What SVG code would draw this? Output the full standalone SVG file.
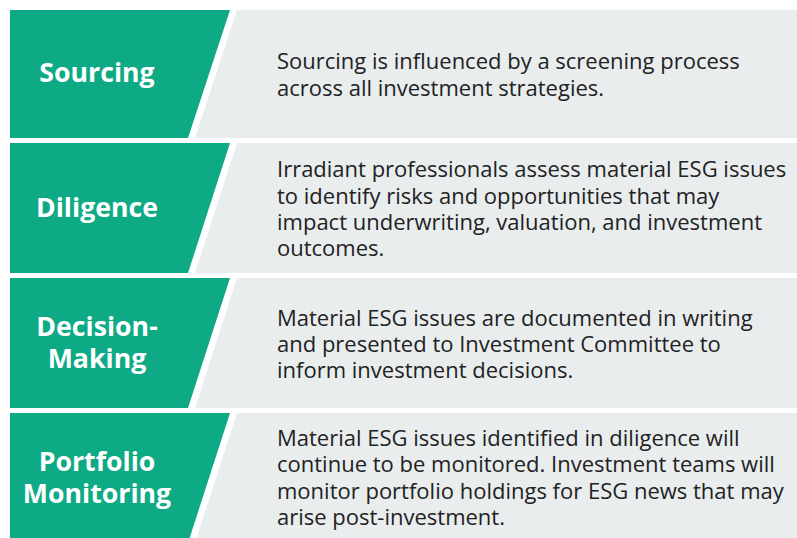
<svg xmlns="http://www.w3.org/2000/svg" width="797" height="538" viewBox="0 0 797 538">
  <style>
    .tab { fill: #0eaa85; }
    .panel { fill: #e9edee; }
    .label { font-family: "Open Sans", "Noto Sans", sans-serif; font-weight: 700; font-size: 26.7px; fill: #ffffff; text-anchor: middle; }
    .body { font-family: "Open Sans", "Noto Sans", sans-serif; font-size: 22px; fill: #222222; }
  </style>
  <rect width="797" height="538" fill="#ffffff"/>

  <g id="sourcing">
    <polygon class="tab" points="10,10 230,10 188,138 10,138"/>
    <polygon class="panel" points="237,10 797,10 797,138 195,138"/>
    <text class="label" x="97" y="82">Sourcing</text>
    <text class="body" x="277" y="69">Sourcing is influenced by a screening process</text>
    <text class="body" x="277" y="96">across all investment strategies.</text>
  </g>

  <g id="diligence">
    <polygon class="tab" points="10,143 230,143 188,273 10,273"/>
    <polygon class="panel" points="237,143 797,143 797,273 195,273"/>
    <text class="label" x="97" y="217">Diligence</text>
    <text class="body" x="277" y="177">Irradiant professionals assess material ESG issues</text>
    <text class="body" x="277" y="204">to identify risks and opportunities that may</text>
    <text class="body" x="277" y="230">impact underwriting, valuation, and investment</text>
    <text class="body" x="277" y="256">outcomes.</text>
  </g>

  <g id="decision-making">
    <polygon class="tab" points="10,278 230,278 188,408 10,408"/>
    <polygon class="panel" points="237,278 797,278 797,408 195,408"/>
    <text class="label" x="97" y="336">Decision-</text>
    <text class="label" x="97" y="368">Making</text>
    <text class="body" x="277" y="326">Material ESG issues are documented in writing</text>
    <text class="body" x="277" y="352">and presented to Investment Committee to</text>
    <text class="body" x="277" y="378">inform investment decisions.</text>
  </g>

  <g id="portfolio-monitoring">
    <polygon class="tab" points="10,413 230,413 188,543 10,543"/>
    <polygon class="panel" points="237,413 797,413 797,543 195,543"/>
    <text class="label" x="97" y="471">Portfolio</text>
    <text class="label" x="97" y="503">Monitoring</text>
    <text class="body" x="277" y="446">Material ESG issues identified in diligence will</text>
    <text class="body" x="277" y="472">continue to be monitored. Investment teams will</text>
    <text class="body" x="277" y="499">monitor portfolio holdings for ESG news that may</text>
    <text class="body" x="277" y="525">arise post-investment.</text>
  </g>

  <g id="connectors"/>
</svg>
